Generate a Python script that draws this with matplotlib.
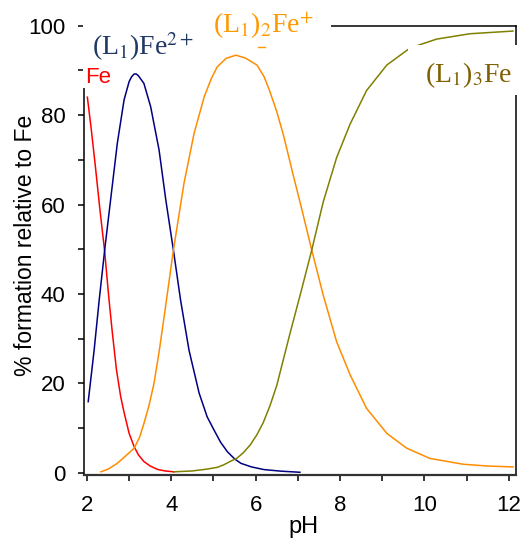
import matplotlib
matplotlib.use("Agg")
import matplotlib.pyplot as plt
from matplotlib.patches import Rectangle
from matplotlib.lines import Line2D
from matplotlib.ticker import MultipleLocator

plt.rcParams['font.family'] = ['Liberation Sans', 'DejaVu Sans']
plt.rcParams['mathtext.fontset'] = 'stix'

# ---- data ----
fe_ph = [2.01, 2.1, 2.2, 2.3, 2.42, 2.52, 2.6, 2.7, 2.8, 2.88, 3.0, 3.12, 3.22, 3.35, 3.5,
         3.67, 3.85, 4.06]
fe_val = [84, 77, 68.5, 59.5, 49.5, 39, 31.5, 23, 17, 13.5, 8.8, 5.8, 4.0, 2.5, 1.5,
          0.75, 0.4, 0.2]

l1fe_ph = [2.03, 2.17, 2.29, 2.42, 2.56, 2.72, 2.88, 3.0, 3.06, 3.12, 3.17, 3.22, 3.35, 3.51,
           3.71, 3.87, 4.05, 4.22, 4.42, 4.66, 4.85, 5.01, 5.17, 5.33, 5.5, 5.65, 5.9, 6.2,
           6.6, 7.05]
l1fe_val = [15.9, 27.4, 38.6, 49.8, 61, 73.7, 83.4, 87.5, 88.6, 89.2, 89.2, 88.8, 87.1, 81.9,
            72.2, 61, 49.8, 38.6, 27.4, 17.8, 12.5, 9.6, 6.8, 4.7, 3.1, 2.1, 1.3, 0.7,
            0.35, 0.1]

l2fe_ph = [2.33, 2.5, 2.72, 2.9, 3.12, 3.25, 3.35, 3.47, 3.59, 3.71, 3.83, 4.05, 4.3, 4.54,
           4.78, 4.95, 5.09, 5.3, 5.53, 5.75, 6.03, 6.2, 6.34, 6.5, 6.66, 6.89, 7.09, 7.33,
           7.6, 7.92, 8.24, 8.63, 9.11, 9.58, 10.13, 10.92, 11.5, 12.1]
l2fe_val = [0.2, 0.8, 2.1, 3.6, 5.5, 8.0, 11, 15, 20, 27, 34.9, 49.8, 64.7, 75.9,
            84.1, 88.2, 90.8, 92.7, 93.4, 92.8, 91.2, 88.6, 85.2, 80.8, 75.5, 66.6, 59.1, 49.8,
            39.8, 29.3, 21.9, 14.4, 8.8, 5.5, 3.2, 1.9, 1.5, 1.3]

l3fe_ph = [4.06, 4.5, 4.84, 5.09, 5.25, 5.39, 5.55, 5.7, 5.87, 6.03, 6.18, 6.34, 6.5, 6.81,
           7.09, 7.33, 7.6, 7.92, 8.24, 8.63, 9.11, 9.66, 10.29, 11.08, 12.1]
l3fe_val = [0.2, 0.4, 0.8, 1.2, 1.8, 2.5, 3.2, 4.4, 6.2, 8.5, 11.2, 15, 19.5, 31,
            41, 49.8, 60.5, 70.5, 78, 85.5, 91.2, 95.0, 97.0, 98.2, 98.8]

x_ticks = [2, 4, 6, 8, 10, 12]
y_ticks = [0, 20, 40, 60, 80, 100]

W, H = 527, 539
AX_L, AX_R, AX_T, AX_B = 84, 515.7, 25.7, 475
fig = plt.figure(figsize=(W / 100, H / 100), dpi=100)
ax = fig.add_axes([AX_L / W, 1 - AX_B / H, (AX_R - AX_L) / W, (AX_B - AX_T) / H])

lw = 1.1
ax.plot(fe_ph, fe_val, color='#ff0000', lw=lw)
ax.plot(l1fe_ph, l1fe_val, color='#000080', lw=lw)
ax.plot(l2fe_ph, l2fe_val, color='#ff8c00', lw=lw)
ax.plot(l3fe_ph, l3fe_val, color='#808000', lw=lw)

ax.set_xlim(1.93, 12.166)
ax.set_ylim(-0.51, 100)
ax.set_xticks(x_ticks)
ax.set_yticks(y_ticks)
ax.xaxis.set_minor_locator(MultipleLocator(1))
ax.yaxis.set_minor_locator(MultipleLocator(10))
ax.tick_params(which='both', direction='out', width=1.1, colors='black', labelsize=16)
ax.tick_params(which='major', length=4.5)
ax.tick_params(which='minor', length=4.0)
ax.tick_params(axis='y', which='major', pad=9)
ax.tick_params(axis='x', which='major', pad=10)
for s in ax.spines.values():
    s.set_linewidth(1.1)
ax.spines['bottom'].set_color('#333333')
ax.spines['bottom'].set_linewidth(1.6)

ax.set_xlabel('pH', fontsize=17)
ax.set_ylabel('% formation relative to Fe', fontsize=16.5)
axw, axh = AX_R - AX_L, AX_B - AX_T
ax.xaxis.set_label_coords((303.5 - AX_L) / axw, (AX_B - 515.5) / axh)
ax.yaxis.set_label_coords((36.6 - AX_L) / axw, (AX_B - 245.5) / axh)

# white label backgrounds (cover spines/lines as in reference)
def wbox(x0, y0, x1, y1):
    fig.add_artist(Rectangle((x0 / W, 1 - y1 / H), (x1 - x0) / W, (y1 - y0) / H,
                             transform=fig.transFigure, facecolor='white',
                             edgecolor='none', zorder=5))

wbox(83, 62, 113, 88)
wbox(83, 18, 205, 64)
wbox(205, 0, 331, 44)
wbox(408, 45, 527, 95)

serif = ['Liberation Serif', 'DejaVu Serif']
fig.text(92 / W, 1 - 55 / H, r'(L$_1$)Fe$^{2+}$', family=serif, fontsize=20,
         color='#1f3864', va='baseline', ha='left', zorder=6)
fig.text(213 / W, 1 - 33 / H, r'(L$_1$)$_2$Fe$^{+}$', family=serif, fontsize=20,
         color='#ff9900', va='baseline', ha='left', zorder=6)
fig.text(425 / W, 1 - 81.7 / H, r'(L$_1$)$_3$Fe', family=serif, fontsize=20,
         color='#7f6000', va='baseline', ha='left', zorder=6)
fig.text(85 / W, 1 - 83.3 / H, 'Fe', fontsize=16, color='#ff0000',
         va='baseline', ha='left', zorder=6)
# small stray dash under the orange label
fig.add_artist(Line2D([258 / W, 265 / W], [1 - 46.5 / H, 1 - 46.5 / H],
                      transform=fig.transFigure, color='#ff9900', lw=1.0, zorder=6))

fig.savefig('out.png', dpi=100)
